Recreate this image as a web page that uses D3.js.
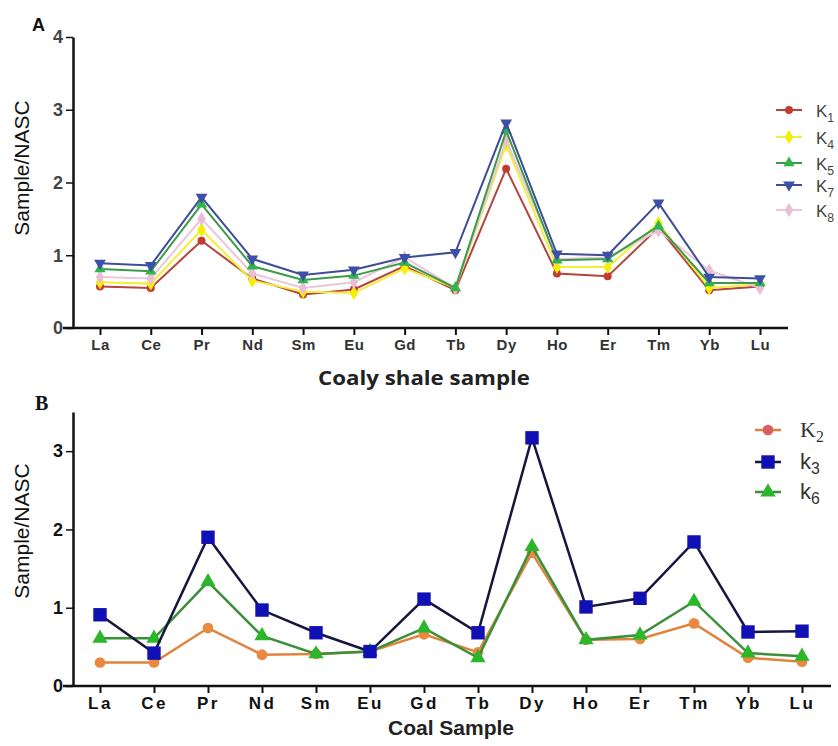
<!DOCTYPE html>
<html><head><meta charset="utf-8">
<script src="https://cdn.jsdelivr.net/npm/d3@7"></script>
<style>body{margin:0;background:#fff}svg{display:block}</style>
</head><body>
<script>
const elements = ["La","Ce","Pr","Nd","Sm","Eu","Gd","Tb","Dy","Ho","Er","Tm","Yb","Lu"];
// Panel A – coaly shale samples
const K1 = [0.57,0.55,1.20,0.68,0.46,0.53,0.85,0.52,2.19,0.75,0.71,1.38,0.52,0.57];
const K4 = [0.63,0.61,1.35,0.65,0.50,0.48,0.82,0.55,2.52,0.84,0.84,1.44,0.55,0.60];
const K5 = [0.81,0.78,1.70,0.85,0.66,0.72,0.90,0.55,2.71,0.93,0.95,1.40,0.62,0.62];
const K7 = [0.89,0.86,1.80,0.95,0.73,0.80,0.97,1.04,2.82,1.02,1.00,1.72,0.70,0.68];
const K8 = [0.70,0.68,1.50,0.75,0.55,0.63,0.97,0.55,2.58,0.95,0.97,1.34,0.79,0.55];
// Panel B – coal samples
const k2 = [0.30,0.30,0.74,0.40,0.41,0.44,0.66,0.43,1.70,0.59,0.60,0.80,0.36,0.31];
const k3 = [0.91,0.42,1.90,0.97,0.68,0.44,1.11,0.68,3.17,1.01,1.12,1.84,0.69,0.70];
const k6 = [0.61,0.61,1.33,0.64,0.41,0.44,0.74,0.36,1.78,0.59,0.65,1.08,0.42,0.38];
const ticksA = [0,1,2,3,4];
const ticksB = [0,1,2,3];

const svg = d3.select("body").append("svg").attr("width",838).attr("height",746);
const SANS = "'Liberation Sans',Arial,sans-serif";

function panel(o){
  const x = d3.scalePoint().domain(elements).range(o.xr);
  const y = d3.scaleLinear().domain(o.yd).range(o.yr);
  const g = svg.append("g");
  const ax = g.append("g").attr("transform",`translate(0,${o.yr[0]})`)
    .call(d3.axisBottom(x).tickSize(7).tickPadding(4).tickSizeOuter(0));
  ax.select(".domain").remove();
  ax.append("line").attr("x1",o.xl[0]).attr("x2",o.xl[1]).attr("stroke","#111").attr("stroke-width",2.5);
  ax.selectAll(".tick line").attr("stroke","#111").attr("stroke-width",2).attr("y1",0);
  ax.selectAll(".tick text").attr("fill",o.xtc).style("font-family",SANS)
    .style("font-weight","bold").style("font-size",o.xfs+"px").style("letter-spacing",o.xls+"px");
  const ay = g.append("g").attr("transform",`translate(${o.yx},0)`)
    .call(d3.axisLeft(y).tickValues(o.ticks).tickFormat(d3.format("d")).tickSize(7).tickPadding(3).tickSizeOuter(0));
  ay.select(".domain").attr("stroke","#111").attr("stroke-width",2.5);
  ay.selectAll(".tick line").attr("stroke","#111").attr("stroke-width",1.5);
  ay.selectAll(".tick text").attr("fill",o.ytc).style("font-family",SANS)
    .style("font-weight","bold").style("font-size","18px");
  g.append("text").attr("transform",`translate(${o.ytx},${o.yty}) rotate(-90)`).attr("text-anchor","middle")
    .style("font-family",SANS).style("font-size","21px").attr("fill","#111")
    .text("Sample/NASC");
  const line = d3.line().x((d,i)=>x(elements[i])).y(d=>y(d));
  o.series.forEach(s=>{
    g.append("path").datum(s.v).attr("d",line).attr("fill","none").attr("stroke",s.lc).attr("stroke-width",s.lw);
    g.selectAll(null).data(s.v).enter().append("path")
      .attr("transform",(d,i)=>`translate(${x(elements[i])},${y(d)})${s.rot?" rotate(180)":""}`)
      .attr("d",d3.symbol().type(s.sym).size(s.size)).attr("fill",s.mc);
  });
  o.series.slice().sort((a,b)=>a.lo-b.lo).forEach(s=>{
    const ly = s.ly;
    g.append("line").attr("x1",o.lx).attr("x2",o.lx+26).attr("y1",ly).attr("y2",ly).attr("stroke",s.lc).attr("stroke-width",s.lw);
    g.append("path").attr("transform",`translate(${o.lx+13},${ly})${s.rot?" rotate(180)":""}`)
      .attr("d",d3.symbol().type(s.sym).size(s.size)).attr("fill",s.legmc||s.mc);
    const t = g.append("text").attr("x",o.lx+o.ltx).attr("y",ly+7).attr("fill",o.ltc)
      .style("font-family",s.lf||SANS).style("font-size",o.lfs+"px");
    t.append("tspan").text(s.name[0]);
    t.append("tspan").attr("dy",5).style("font-size",(o.lfs*0.72)+"px").text(s.name.slice(1));
  });
  return g;
}

panel({
  xr:[100,760], xl:[63,788], yd:[0,4], yr:[328,37], yx:73, ticks:ticksA, xtc:"#333", ytc:"#444", xfs:15, xls:0.5,
  ytx:29, yty:168, lx:776, ltx:40, ltc:"#444", lfs:17,
  series:[
    {name:"K1", v:K1, lc:"#b5443a", mc:"#c23b2e", sym:d3.symbolCircle, size:50, lw:2, ly:110, lo:1},
    {name:"K4", v:K4, lc:"#f2ee3a", mc:"#f5f000", sym:d3.symbolDiamond, size:60, lw:2, ly:137, lo:2},
    {name:"K8", v:K8, lc:"#e9c6dc", mc:"#e8bfd6", sym:d3.symbolDiamond, size:60, lw:2, ly:210, lo:5},
    {name:"K5", v:K5, lc:"#3c9a4a", mc:"#2fb54a", sym:d3.symbolTriangle, size:55, lw:2, ly:163, lo:3},
    {name:"K7", v:K7, lc:"#3e4d94", mc:"#3d4fa8", sym:d3.symbolTriangle, rot:true, size:60, lw:2, ly:185, lo:4}
  ]
});

panel({
  xr:[100,802], xl:[63,831], yd:[0,3.5], yr:[686,412], yx:73, ticks:ticksB, xtc:"#111", ytc:"#111", xfs:17, xls:2.5,
  ytx:29, yty:531, lx:755, ltx:45, ltc:"#333", lfs:22,
  series:[
    {name:"K2", v:k2, lc:"#e0843c", mc:"#e8893f", legmc:"#d9605a", sym:d3.symbolCircle, size:90, lw:2.5, ly:430, lo:1, lf:"'Liberation Serif','Times New Roman',serif"},
    {name:"k6", v:k6, lc:"#3a8f3a", mc:"#2cb62c", sym:d3.symbolTriangle, size:100, lw:2.5, ly:492, lo:3},
    {name:"k3", v:k3, lc:"#16163f", mc:"#1010b4", sym:d3.symbolSquare, size:180, lw:2.5, ly:462, lo:2}
  ]
});

svg.append("text").attr("x",32).attr("y",31).style("font-family",SANS)
  .style("font-weight","bold").style("font-size","18px").attr("fill","#111").text("A");
svg.append("text").attr("x",35).attr("y",410).style("font-family","'Liberation Serif','Times New Roman',serif")
  .style("font-weight","bold").style("font-size","20px").attr("fill","#111").text("B");
svg.append("text").attr("x",424).attr("y",385).attr("text-anchor","middle").style("font-family","'Open Sans',sans-serif")
  .style("font-weight","bold").style("font-size","19px").attr("fill","#222")
  .attr("textLength",212).attr("lengthAdjust","spacingAndGlyphs").text("Coaly shale sample");
svg.append("text").attr("x",451).attr("y",735).attr("text-anchor","middle").style("font-family",SANS)
  .style("font-weight","bold").style("font-size","21px").attr("fill","#222").text("Coal Sample");
</script>
</body></html>
